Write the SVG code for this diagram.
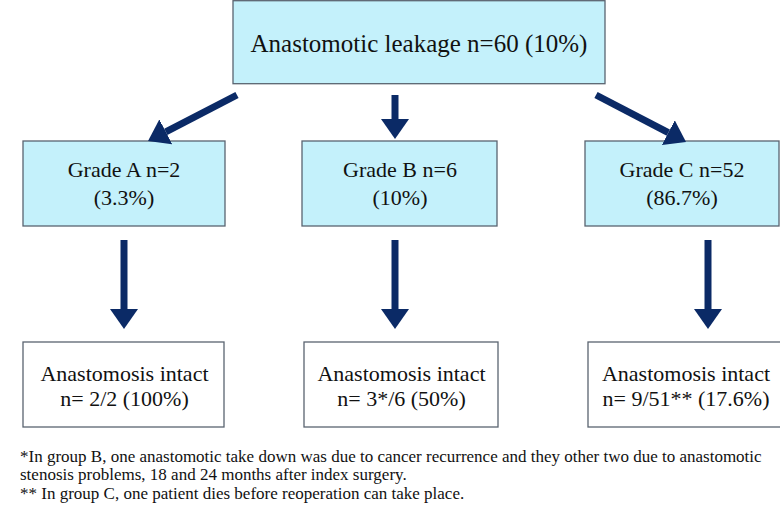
<svg xmlns="http://www.w3.org/2000/svg" width="780" height="505" viewBox="0 0 780 505" font-family="'Liberation Serif', 'Times New Roman', 'DejaVu Serif', serif">
<style>
.box{fill:#c4f1fb;stroke:#5a6470;stroke-width:1.3}
.wbox{fill:#ffffff;stroke:#5a6470;stroke-width:1.3}
text{fill:#111;text-anchor:middle}
.t1{font-size:25px}
.t2{font-size:22px}
.fn{font-size:17px;text-anchor:start}
.arr{stroke:#0b2a66;stroke-width:7;fill:none;marker-end:url(#ah)}
</style>
<defs>
<marker id="ah" markerUnits="userSpaceOnUse" viewBox="0 0 20 28" markerWidth="20" markerHeight="28" refX="0" refY="14" orient="auto">
<path d="M0,0 L20,14 L0,28 Z" fill="#0b2a66"/>
</marker>
</defs>
<rect width="780" height="505" fill="#ffffff"/>
<g id="top">
<rect class="box" x="233" y="0.7" width="372" height="83"/>
<text class="t1" x="419" y="51.5">Anastomotic leakage n=60 (10%)</text>
</g>
<g id="gradeA">
<rect class="box" x="23" y="141" width="202" height="85"/>
<text class="t2" x="124" y="177">Grade A n=2</text>
<text class="t2" x="124" y="205">(3.3%)</text>
</g>
<g id="gradeB">
<rect class="box" x="302" y="141" width="195" height="85"/>
<text class="t2" x="400" y="177">Grade B n=6</text>
<text class="t2" x="400" y="205">(10%)</text>
</g>
<g id="gradeC">
<rect class="box" x="585" y="141" width="194" height="85"/>
<text class="t2" x="682" y="177">Grade C n=52</text>
<text class="t2" x="682" y="205">(86.7%)</text>
</g>
<g id="intactA">
<rect class="wbox" x="23" y="342" width="201" height="85"/>
<text class="t2" x="124.5" y="381">Anastomosis intact</text>
<text class="t2" x="124.5" y="406">n= 2/2 (100%)</text>
</g>
<g id="intactB">
<rect class="wbox" x="304" y="342" width="194" height="85"/>
<text class="t2" x="401.5" y="381">Anastomosis intact</text>
<text class="t2" x="401.5" y="406">n= 3*/6 (50%)</text>
</g>
<g id="intactC">
<rect class="wbox" x="588" y="342" width="196" height="85"/>
<text class="t2" x="686" y="381">Anastomosis intact</text>
<text class="t2" x="686" y="406">n= 9/51** (17.6%)</text>
</g>
<g id="connectors">
<line class="arr" x1="237" y1="95" x2="165.8" y2="131.8"/>
<line class="arr" x1="395" y1="95" x2="395" y2="119"/>
<line class="arr" x1="596" y1="95" x2="668.3" y2="132.7"/>
<line class="arr" x1="124" y1="240" x2="124" y2="309"/>
<line class="arr" x1="395" y1="240" x2="395" y2="309"/>
<line class="arr" x1="708" y1="240" x2="708" y2="309"/>
</g>
<g id="footnotes">
<text class="fn" x="20" y="462">*In group B, one anastomotic take down was due to cancer recurrence and they other two due to anastomotic</text>
<text class="fn" x="20" y="480">stenosis problems, 18 and 24 months after index surgery.</text>
<text class="fn" x="20" y="499">** In group C, one patient dies before reoperation can take place.</text>
</g>
</svg>
